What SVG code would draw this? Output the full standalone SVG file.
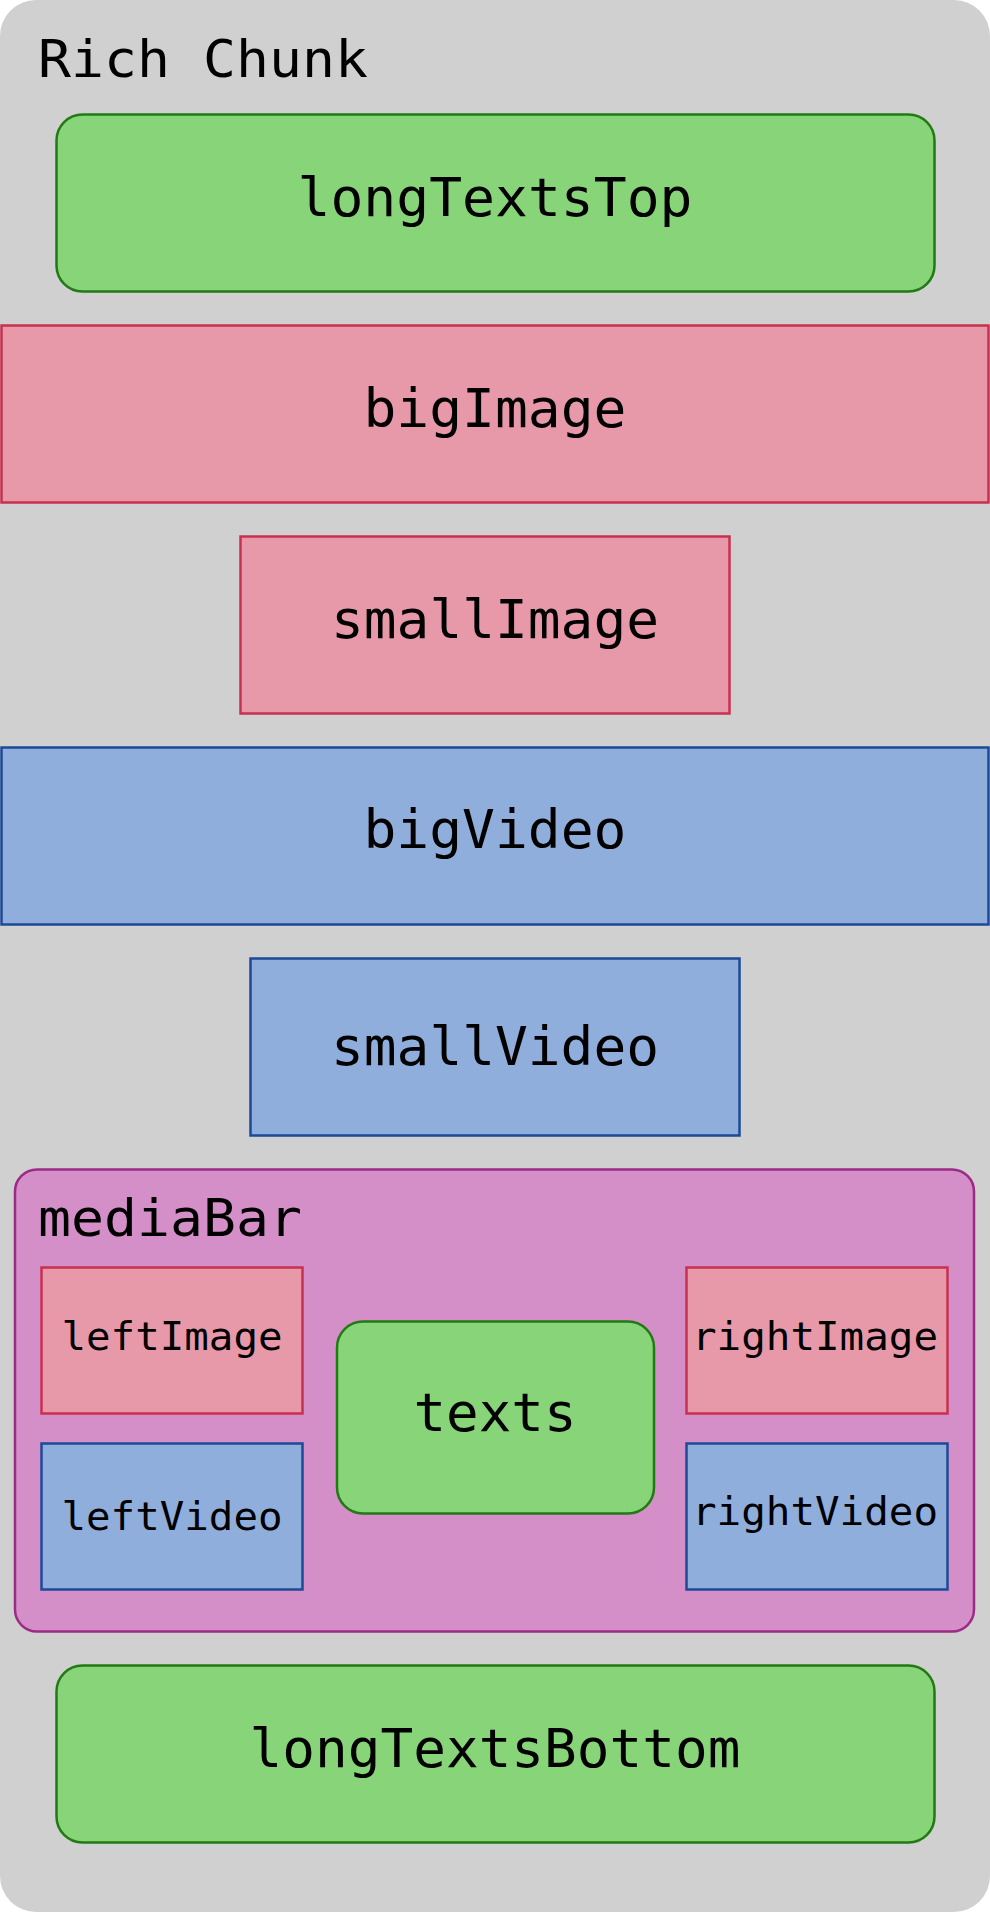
<svg xmlns="http://www.w3.org/2000/svg" width="990" height="1912" viewBox="0 0 990 1912">
<style>
text{font-family:"DejaVu Sans Mono","Liberation Mono",monospace;fill:#000;}
.big{font-size:53px;text-anchor:middle;}
.sm{font-size:39px;text-anchor:middle;}
.ttl{font-size:52px;}
.txt{fill:#88d478;stroke:#217a14;stroke-width:2.5;}
.img{fill:#e799aa;stroke:#c8304f;stroke-width:2.5;}
.vid{fill:#90aedc;stroke:#1c4a96;stroke-width:2.5;}
.bar{fill:#d48fc8;stroke:#9c2b86;stroke-width:2.5;}
</style>
<g id="richChunk">
<rect x="0" y="0" width="990" height="1912" rx="36" fill="#d0d0d0"/>
<text class="ttl" x="38" y="77" textLength="330" lengthAdjust="spacingAndGlyphs">Rich Chunk</text>
</g>
<g id="longTextsTop">
<rect class="txt" x="56.5" y="114.5" width="878" height="177" rx="26"/>
<text class="big" x="495" y="216" textLength="395" lengthAdjust="spacingAndGlyphs">longTextsTop</text>
</g>
<g id="bigImage">
<rect class="img" x="1.5" y="325.5" width="987" height="177"/>
<text class="big" x="495" y="427" textLength="263" lengthAdjust="spacingAndGlyphs">bigImage</text>
</g>
<g id="smallImage">
<rect class="img" x="240.5" y="536.5" width="489" height="177"/>
<text class="big" x="495" y="638" textLength="328" lengthAdjust="spacingAndGlyphs">smallImage</text>
</g>
<g id="bigVideo">
<rect class="vid" x="1.5" y="747.5" width="987" height="177"/>
<text class="big" x="495" y="848" textLength="263" lengthAdjust="spacingAndGlyphs">bigVideo</text>
</g>
<g id="smallVideo">
<rect class="vid" x="250.5" y="958.5" width="489" height="177"/>
<text class="big" x="495" y="1065" textLength="328" lengthAdjust="spacingAndGlyphs">smallVideo</text>
</g>
<g id="mediaBar">
<rect class="bar" x="15" y="1169.5" width="959" height="462" rx="22"/>
<text class="ttl" x="38" y="1236" textLength="264" lengthAdjust="spacingAndGlyphs">mediaBar</text>
</g>
<g id="leftImage">
<rect class="img" x="41.5" y="1267.5" width="261" height="146"/>
<text class="sm" x="172" y="1350" textLength="221" lengthAdjust="spacingAndGlyphs">leftImage</text>
</g>
<g id="texts">
<rect class="txt" x="337" y="1321.5" width="317" height="192" rx="26"/>
<text class="big" x="495" y="1431" textLength="163" lengthAdjust="spacingAndGlyphs">texts</text>
</g>
<g id="rightImage">
<rect class="img" x="686.5" y="1267.5" width="261" height="146"/>
<text class="sm" x="815" y="1350" textLength="246" lengthAdjust="spacingAndGlyphs">rightImage</text>
</g>
<g id="leftVideo">
<rect class="vid" x="41.5" y="1443.5" width="261" height="146"/>
<text class="sm" x="172" y="1530" textLength="221" lengthAdjust="spacingAndGlyphs">leftVideo</text>
</g>
<g id="rightVideo">
<rect class="vid" x="686.5" y="1443.5" width="261" height="146"/>
<text class="sm" x="815" y="1525" textLength="246" lengthAdjust="spacingAndGlyphs">rightVideo</text>
</g>
<g id="longTextsBottom">
<rect class="txt" x="56.5" y="1665.5" width="878" height="177" rx="26"/>
<text class="big" x="495" y="1767" textLength="491" lengthAdjust="spacingAndGlyphs">longTextsBottom</text>
</g>
<g id="connectors"></g>
</svg>
